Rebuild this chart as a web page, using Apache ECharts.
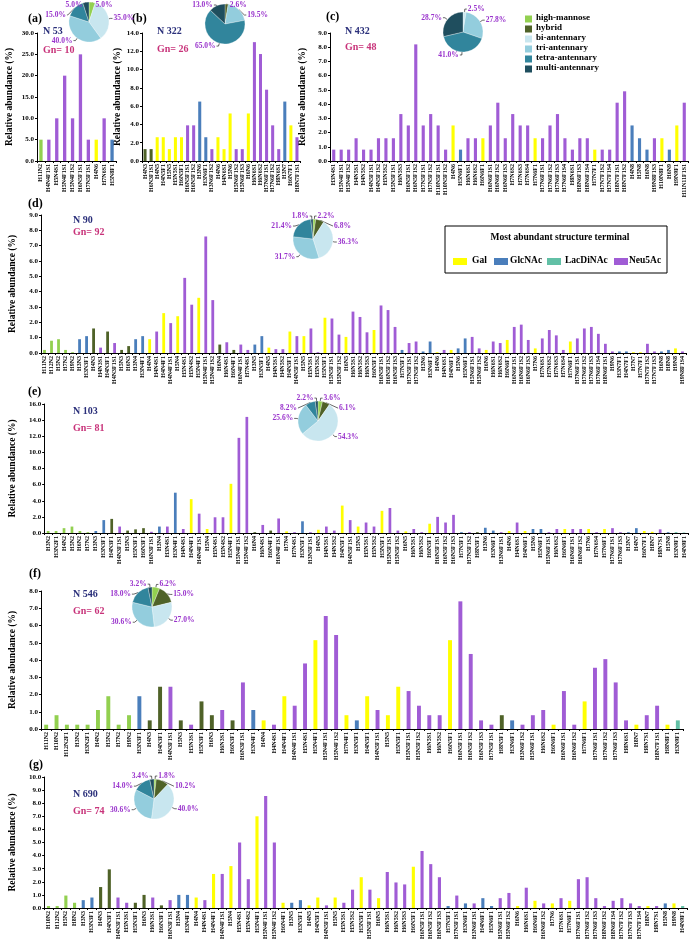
<!DOCTYPE html>
<html>
<head>
<meta charset="utf-8">
<script src="https://cdn.jsdelivr.net/npm/echarts@6/dist/echarts.min.js"></script>
<style>html,body{margin:0;padding:0;background:#fff}#c{width:692px;height:943px}</style>
</head>
<body>
<div id="c"></div>
<script>
// ---------- DATA ----------
const aLabels = ["H11N2","H4N4F1S1","H5N4S1","H5N4F1S1","H5N4F1S2","H6N5F1S1","H7N5F1S1","H4N6","H7N6S1","H5N8F1"];
const aValues = [5,5,10,20,10,25,5,5,10,5];
const aTypes = "MSSSSSSGSN".split("");

const bLabels = ["H4N3","H6N3F1S1","H4N5","H4N5F1","H5N5","H5N5S1","H6N5F1","H6N5F1S1","H6N5F1S2","H3N6","H3N6F1","H3N6F1S2","H4N6","H4N6S1","H5N6","H5N6F1S2","H5N6F1S3","H6N6","H6N6S1","H6N6S2","H7N6F1S1","H7N6F1S2","H8N6S1","H3N7","H6N7F1","H8N7F1S1"];
const bValues = [1.3,1.3,2.6,2.6,1.3,2.6,2.6,3.9,3.9,6.5,2.6,1.3,2.6,1.3,5.2,1.3,1.3,5.2,13.0,11.7,7.8,3.9,1.3,6.5,3.9,2.6];
const bTypes = "HHGGGGGSSNNSGGGSSGSSSSSNGS".split("");

const cLabels = ["H3N4S1","H5N4F1S1","H5N4F1S2","H4N5S1","H4N5S2","H4N5F1S1","H4N5F1S2","H5N5S2","H5N5F1S1","H6N5S3","H6N5F1S1","H6N5F1S2","H7N5F1S1","H7N5F1S2","H10N5F1S1","H10N5F1S2","H4N6","H5N6F1","H6N6S1","H6N6S2","H6N6F1","H6N6F1S1","H6N6F1S2","H6N6F1S3","H7N6S2","H7N6S3","H7N6S4","H7N6F1","H7N6F1S1","H7N6F1S2","H7N6F1S3","H7N6F1S4","H8N6S1","H8N6F1S3","H8N6F1S4","H7N7F1","H7N7F1S2","H7N7F1S4","H8N7F1S1","H8N7F1S2","H4N8","H5N8","H6N8","H9N8F1S3","H10N8F1","H6N9","H9N9F1","H11N11F1S1"];
const cValues = [0.8,0.8,0.8,1.6,0.8,0.8,1.6,1.6,1.6,3.3,2.5,8.2,2.5,3.3,2.5,0.8,2.5,0.8,1.6,1.6,1.6,2.5,4.1,1.6,3.3,2.5,2.5,1.6,1.6,2.5,3.3,1.6,0.8,1.6,1.6,0.8,0.8,0.8,4.1,4.9,2.5,1.6,0.8,1.6,1.6,0.8,2.5,4.1];
const cTypes = "SSSSSSSSSSSSSSSSGNSSGSSSSSSGSSSSSSSGSSSSNNNSGNGS".split("");

const dLabels = ["H11N2","H12N2","H5N2","H7N2","H9N2","H3N3","H3N3F1","H4N3","H4N3S1","H4N3F1","H4N3F1S1","H5N3","H6N3","H3N4","H3N4F1","H4N4","H4N4S1","H4N4F1","H4N4F1S1","H5N4","H5N4S1","H5N4S2","H5N4F1","H5N4F1S1","H5N4F1S2","H6N4","H6N4S1","H6N4F1","H6N4F1S1","H7N4S1","H3N5","H3N5F1","H4N5","H4N5S1","H4N5S2","H4N5F1","H4N5F1S1","H5N5","H5N5S1","H5N5S2","H5N5F1","H5N5F1S1","H5N5F1S2","H6N5","H6N5S1","H6N5S2","H6N5S3","H6N5F1","H6N5F1S1","H6N5F1S2","H6N5F1S3","H7N5F1","H7N5F1S1","H7N5F1S2","H3N6","H3N6F1","H4N6","H4N6S1","H4N6F1","H5N6","H5N6F1","H5N6F1S1","H5N6F1S2","H6N6","H6N6S1","H6N6S2","H6N6F1","H6N6F1S1","H6N6F1S2","H6N6F1S3","H7N6","H7N6S1","H7N6S2","H7N6S3","H7N6S4","H7N6F1","H7N6F1S1","H7N6F1S2","H7N6F1S3","H7N6F1S4","H8N6F1S1","H9N6","H3N7F1","H4N7F1","H7N7","H7N7F1","H7N7F1S2","H7N7F1S3","H6N8","H8N8","H9N8","H9N8F1S4"];
const dValues = [0.2,0.8,0.9,0.2,0.05,0.9,1.1,1.6,0.35,1.4,0.65,0.2,0.45,0.9,1.1,0.9,1.4,2.6,1.95,2.4,4.9,3.15,3.6,7.6,3.45,0.55,0.7,0.2,0.55,0.2,0.55,1.1,0.35,0.25,0.25,1.4,1.1,1.1,1.6,0.05,2.3,2.25,1.2,1.05,2.7,2.35,1.35,1.5,3.1,2.8,1.7,0.2,0.65,0.75,0.1,0.75,0.05,0.2,0.2,0.3,0.95,1.05,0.3,0.2,0.75,0.65,0.85,1.7,1.85,0.85,0.3,0.95,1.5,1.15,0.2,0.75,0.95,1.6,1.7,1.25,0.6,0.1,0.1,0.1,0.05,0.05,0.6,0.1,0.1,0.2,0.3,0.1];
const dTypes = "MMMMMNNHSHSHHNNGSGSGSSGSSHSHSSNNGSSGSGSSGSSGSSSGSSSNSSNNGSGNNSSGSSGSSSGSSSSGSSSSSSNNGGSSNNGS".split("");

const eLabels = ["H3N2","H3N2F1","H4N2","H5N2","H6N2","H7N2","H3N3","H3N3F1","H4N3F1","H4N3F1S1","H5N3","H5N3F1","H6N3F1","H6N3F1S1","H3N4","H3N4S1","H3N4F1","H4N4S1","H4N4F1","H4N4F1S1","H5N4","H5N4S1","H5N4S2","H5N4F1","H5N4F1S1","H5N4F1S2","H6N4","H6N4S1","H6N4F1","H6N4F1S1","H7N4","H7N4S1","H3N5F1","H3N5F1S1","H4N5","H4N5S1","H4N5S2","H4N5F1","H4N5F1S1","H5N5","H5N5S1","H5N5S2","H5N5F1","H5N5F1S1","H5N5F1S2","H6N5","H6N5S1","H6N5S2","H6N5F1","H6N5F1S1","H6N5F1S2","H6N5F1S3","H7N5F1","H7N5F1S2","H8N5F1","H3N6","H3N6F1","H3N6F1S1","H4N6","H4N6S1","H4N6F1","H5N6","H5N6F1","H5N6F1S1","H6N6S2","H6N6F1","H6N6F1S1","H6N6F1S2","H7N6","H7N6S4","H7N6F1","H7N6F1S1","H7N6F1S3","H3N7","H4N7","H6N7F1","H8N7","H8N7S1","H5N8","H3N9F1","H4N9F1"];
const eValues = [0.25,0.25,0.6,0.8,0.25,0.1,0.25,1.6,1.75,0.8,0.3,0.45,0.6,0.15,0.8,0.8,5.0,0.5,4.2,2.4,0.5,1.95,1.95,6.1,11.8,14.4,0.1,1.0,0.3,1.8,0.2,0.1,1.45,0.1,0.4,0.8,0.3,3.4,1.6,0.8,1.3,0.8,2.75,3.1,0.3,0.2,0.5,0.1,1.15,2.0,1.3,2.25,0.1,0.1,0.1,0.65,0.3,0.1,0.25,1.3,0.25,0.5,0.5,0.1,0.5,0.5,0.5,0.5,0.5,0.1,0.5,0.6,0.1,0.1,0.6,0.25,0.15,0.45,0.1,0.1,0.05];
const eTypes = "MMMMMMNNHSHHHSNSNSGSGSSGSSHSHSGSNSGSSGSGSSGSSGSSGSSSNSHNNSGSGNNSSGSSGSGSSNNGGSNLL".split("");

const fLabels = ["H11N2","H10N2","H12N2F1","H3N2","H3N2F1","H4N2","H5N2","H7N2","H9N2","H3N3F1","H4N3","H4N3F1","H4N3F1S1","H5N3","H5N3S1","H5N3F1","H6N3","H6N3S1","H6N3F1","H6N3F1S1","H3N4F1","H4N4","H4N4S1","H4N4F1","H4N4F1S1","H5N4S1","H5N4F1","H5N4F1S1","H5N4F1S2","H7N4F1","H3N5F1","H4N5F1","H4N5F1S1","H5N5","H5N5F1","H5N5F1S1","H5N5F1S2","H6N5S1","H6N5S2","H6N5F1","H6N5F1S1","H6N5F1S2","H6N5F1S3","H7N5F1S1","H8N5F1","H3N6F1","H3N6F1S2","H5N6F1S1","H6N6S2","H6N6F1","H6N6F1S1","H6N6F1S2","H7N6F1","H7N6F1S1","H7N6F1S2","H7N6F1S3","H8N6S1","H8N7","H8N7S1","H8N7F1S1","H8N8F1","H3N9F1"];
const fValues = [0.25,0.8,0.25,0.25,0.25,1.1,1.9,0.25,0.8,1.9,0.5,2.45,2.45,0.5,0.25,1.6,0.8,1.1,0.5,2.7,1.1,0.5,0.25,1.9,1.35,3.8,5.15,6.55,5.45,0.8,0.5,1.9,1.1,0.8,2.45,2.2,1.35,0.8,0.8,5.15,7.4,4.35,0.5,0.25,0.8,0.5,0.25,0.8,1.1,0.25,2.2,0.25,1.6,3.55,4.05,2.7,0.5,0.25,0.8,1.35,0.25,0.5];
const fTypes = "MMMMMMMMMNHHSHSHHSHSNGSGSSGSSGNGSGGSSSSGSSSSHNSSSGSSGSSSSGSSGL".split("");

const gLabels = ["H10N2","H12N2","H5N2","H8N2","H3N3","H3N3F1","H4N3","H4N3F1","H4N3F1S1","H5N3S1","H5N3F1","H6N3","H6N3S1","H6N3F1","H6N3F1S1","H3N4","H3N4F1","H4N4","H4N4S1","H4N4F1","H4N4F1S1","H5N4","H5N4S1","H5N4S2","H5N4F1","H5N4F1S1","H5N4F1S2","H6N4F1","H3N5","H3N5F1","H4N5","H4N5F1","H4N5F1S1","H5N5","H5N5S1","H5N5S2","H5N5F1","H5N5F1S1","H6N5","H6N5S1","H6N5S2","H6N5S3","H6N5F1","H6N5F1S1","H6N5F1S2","H6N5F1S3","H7N5F1","H7N5F1S1","H3N6F1","H3N6F1S1","H4N6F1","H5N6F1","H5N6F1S1","H5N6F1S2","H6N6","H6N6S1","H6N6F1","H6N6F1S2","H7N6","H7N6S1","H7N6F1","H7N6F1S1","H7N6F1S2","H7N6F1S3","H8N6F1S2","H8N6F1S4","H7N7F1S2","H7N7F1S3","H7N7F1S4","H8N7","H8N7S1","H5N8","H9N8","H4N9F1"];
const gValues = [0.15,0.15,0.95,0.4,0.6,0.8,1.6,2.95,0.8,0.4,0.4,1.0,0.8,0.2,0.6,1.0,1.0,0.8,0.6,2.6,2.6,3.2,5.0,2.2,7.0,8.55,5.0,0.4,0.4,0.6,0.2,0.8,0.2,0.8,0.4,1.4,2.35,1.4,0.75,2.75,1.95,1.8,3.15,4.35,3.35,2.35,0.15,0.95,0.35,0.35,0.75,0.15,0.75,1.15,0.15,1.55,0.55,0.35,0.35,0.75,0.55,2.2,2.35,0.75,0.15,0.55,0.75,0.35,0.15,0.15,0.15,0.35,0.35,0.15];
const gTypes = "MMMMNNHHSSHHSHSNNGSGSGSSGSSGNNGGSGSSGSGSSSGSSSNSNSNNSSGSGSGSGSSSSSSSSGSNGL".split("");

// pie slices: high-mannose, hybrid, bi-, tri-, tetra-, multi-antennary
const pieNames = ["high-mannose","hybrid","bi-antennary","tri-antennary","tetra-antennary","multi-antennary"];
const aPie = [5.0, 0, 35.0, 40.0, 15.0, 5.0];
const bPie = [0, 2.6, 0, 19.5, 65.0, 13.0];
const cPie = [0, 0, 2.5, 27.8, 41.0, 28.7];
const dPie = [2.2, 6.8, 36.3, 31.7, 21.4, 1.8];
const ePie = [3.6, 6.1, 54.3, 25.6, 8.2, 2.2];
const fPie = [6.2, 15.0, 27.0, 30.6, 18.0, 3.2];
const gPie = [1.8, 10.2, 40.0, 30.6, 14.0, 3.4];

const terminalNames = ["Gal","GlcNAc","LacDiNAc","Neu5Ac"];

// ---------- STYLE ----------
const FONT = "'Liberation Serif', 'Times New Roman', serif";
const typeColor = {M:'#92d050', H:'#4f6228', G:'#ffff00', N:'#4a7ebb', L:'#62c0a6', S:'#a05cd5'};
const pieColors = ['#92d050','#4f6228','#c8e6ef','#93cddd','#31859c','#1f4e5e'];
const legendColors = ['#ffff00','#4a7ebb','#62c0a6','#a05cd5'];

const panels = [
  {letter:'(a)', labels:aLabels, values:aValues, types:aTypes, pie:aPie, n:'N 53', gn:'Gn= 10',
   grid:{left:37, top:33, width:79, height:128}, max:30, interval:5, bw:'42%', nameGap:22,
   letterPos:[36,20], nPos:[43,32], gnPos:[43,51], pieC:[89,22]},
  {letter:'(b)', labels:bLabels, values:bValues, types:bTypes, pie:bPie, n:'N 322', gn:'Gn= 26',
   grid:{left:142, top:33, width:158, height:128}, max:14, interval:2, bw:'50%', nameGap:19,
   letterPos:[140,20], nPos:[157,32], gnPos:[157,50], pieC:[225,24]},
  {letter:'(c)', labels:cLabels, values:cValues, types:cTypes, pie:cPie, n:'N 432', gn:'Gn= 48',
   grid:{left:330, top:33, width:358, height:128}, max:9, interval:1, bw:'42%', nameGap:19,
   letterPos:[334,18], nPos:[345,32], gnPos:[345,48], pieC:[463,32]},
  {letter:'(d)', labels:dLabels, values:dValues, types:dTypes, pie:dPie, n:'N 90', gn:'Gn= 92',
   grid:{left:40, top:215, width:646, height:138}, max:9, interval:1, bw:'40%', nameGap:23,
   letterPos:[36,205], nPos:[73,221], gnPos:[73,233], pieC:[313,239]},
  {letter:'(e)', labels:eLabels, values:eValues, types:eTypes, pie:ePie, n:'N 103', gn:'Gn= 81',
   grid:{left:41, top:404, width:647, height:129}, max:16, interval:2, bw:'34%', nameGap:23,
   letterPos:[36,393], nPos:[73,412], gnPos:[73,429], pieC:[318,421]},
  {letter:'(f)', labels:fLabels, values:fValues, types:fTypes, pie:fPie, n:'N 546', gn:'Gn= 62',
   grid:{left:39, top:591, width:644, height:138}, max:8, interval:1, bw:'38%', nameGap:23,
   letterPos:[37,575], nPos:[73,595], gnPos:[73,612], pieC:[152,607]},
  {letter:'(g)', labels:gLabels, values:gValues, types:gTypes, pie:gPie, n:'N 690', gn:'Gn= 74',
   grid:{left:40, top:777, width:647, height:131}, max:10, interval:1, bw:'36%', nameGap:23,
   letterPos:[37,766], nPos:[73,795], gnPos:[73,812], pieC:[154,799]}
];

const grids = [], xAxes = [], yAxes = [], series = [], graphics = [];
panels.forEach((p, i) => {
  grids.push(Object.assign({containLabel:false}, p.grid));
  xAxes.push({
    type:'category', gridIndex:i, data:p.labels,
    axisLine:{lineStyle:{color:'#000', width:1}},
    axisTick:{show:true, length:2, lineStyle:{color:'#000'}},
    axisLabel:{interval:0, rotate:90, fontSize:6, fontWeight:'bold', fontFamily:FONT, color:'#000', margin:3}
  });
  yAxes.push({
    type:'value', gridIndex:i, min:0, max:p.max, interval:p.interval,
    name:'Relative abundance (%)', nameLocation:'middle', nameGap:p.nameGap, nameRotate:90,
    nameTextStyle:{fontSize:9.5, fontWeight:'bold', fontFamily:FONT, color:'#000'},
    axisLine:{show:true, lineStyle:{color:'#000', width:1}},
    axisTick:{show:true, length:2, lineStyle:{color:'#000'}},
    splitLine:{show:false},
    axisLabel:{fontSize:7, fontWeight:'bold', fontFamily:FONT, color:'#000', margin:3,
      formatter:v => v.toFixed(1)}
  });
  series.push({
    type:'bar', xAxisIndex:i, yAxisIndex:i, barWidth:p.bw, animation:false,
    data:p.values.map((v, k) => ({value:v, itemStyle:{color:typeColor[p.types[k]] || '#999'}}))
  });
  series.push({
    type:'pie', center:p.pieC, radius:[0, 20], startAngle:90, clockwise:true, animation:false,
    avoidLabelOverlap:true, z:10,
    itemStyle:{borderColor:'#fff', borderWidth:0.3},
    label:{show:true, position:'outside', formatter:q => q.value.toFixed(1)+'%',
      fontSize:7.5, fontWeight:'bold', fontFamily:FONT, color:'#9933cc', distanceToLabelLine:1},
    labelLine:{show:true, length:3, length2:2, lineStyle:{color:'#000', width:0.6}},
    data:p.pie.map((v, k) => ({name:pieNames[k], value:v, itemStyle:{color:pieColors[k]}})).filter(d => d.value > 0)
  });
  graphics.push({type:'text', left:p.letterPos[0]-8, top:p.letterPos[1]-7,
    style:{text:p.letter, font:"bold 12px "+FONT, fill:'#000'}});
  graphics.push({type:'text', left:p.nPos[0], top:p.nPos[1]-6,
    style:{text:p.n, font:"bold 10px "+FONT, fill:'#2a2f7a'}});
  graphics.push({type:'text', left:p.gnPos[0], top:p.gnPos[1]-6,
    style:{text:p.gn, font:"bold 10px "+FONT, fill:'#c8337a'}});
});

// legend of structure types (panel c)
pieNames.forEach((nm, k) => {
  const y = 19 + k*10;
  graphics.push({type:'rect', shape:{x:525, y:y-3.5, width:7, height:7}, style:{fill:pieColors[k]}});
  graphics.push({type:'text', left:536, top:y-6, style:{text:nm, font:"bold 9px "+FONT, fill:'#000'}});
});

// legend of terminals (panel d)
graphics.push({type:'rect', z:5, shape:{x:445, y:226, width:222, height:47},
  style:{fill:'#fff', stroke:'#000', lineWidth:1}});
graphics.push({type:'text', z:6, x:560, y:238,
  style:{text:'Most abundant structure terminal', font:"bold 9.5px "+FONT, fill:'#000',
    textAlign:'center', textVerticalAlign:'middle'}});
const termRectX = [453, 494, 547, 614];
const termTextX = [472, 510, 565, 629];
terminalNames.forEach((nm, k) => {
  graphics.push({type:'rect', z:6, shape:{x:termRectX[k], y:258, width:14, height:7}, style:{fill:legendColors[k]}});
  graphics.push({type:'text', z:6, x:termTextX[k], y:261,
    style:{text:nm, font:"bold 9.5px "+FONT, fill:'#000', textAlign:'left', textVerticalAlign:'middle'}});
});

const chart = echarts.init(document.getElementById('c'), null, {renderer:'canvas'});
chart.setOption({
  animation:false,
  backgroundColor:'#fff',
  grid:grids, xAxis:xAxes, yAxis:yAxes, series:series,
  graphic:graphics
});
</script>
</body>
</html>
